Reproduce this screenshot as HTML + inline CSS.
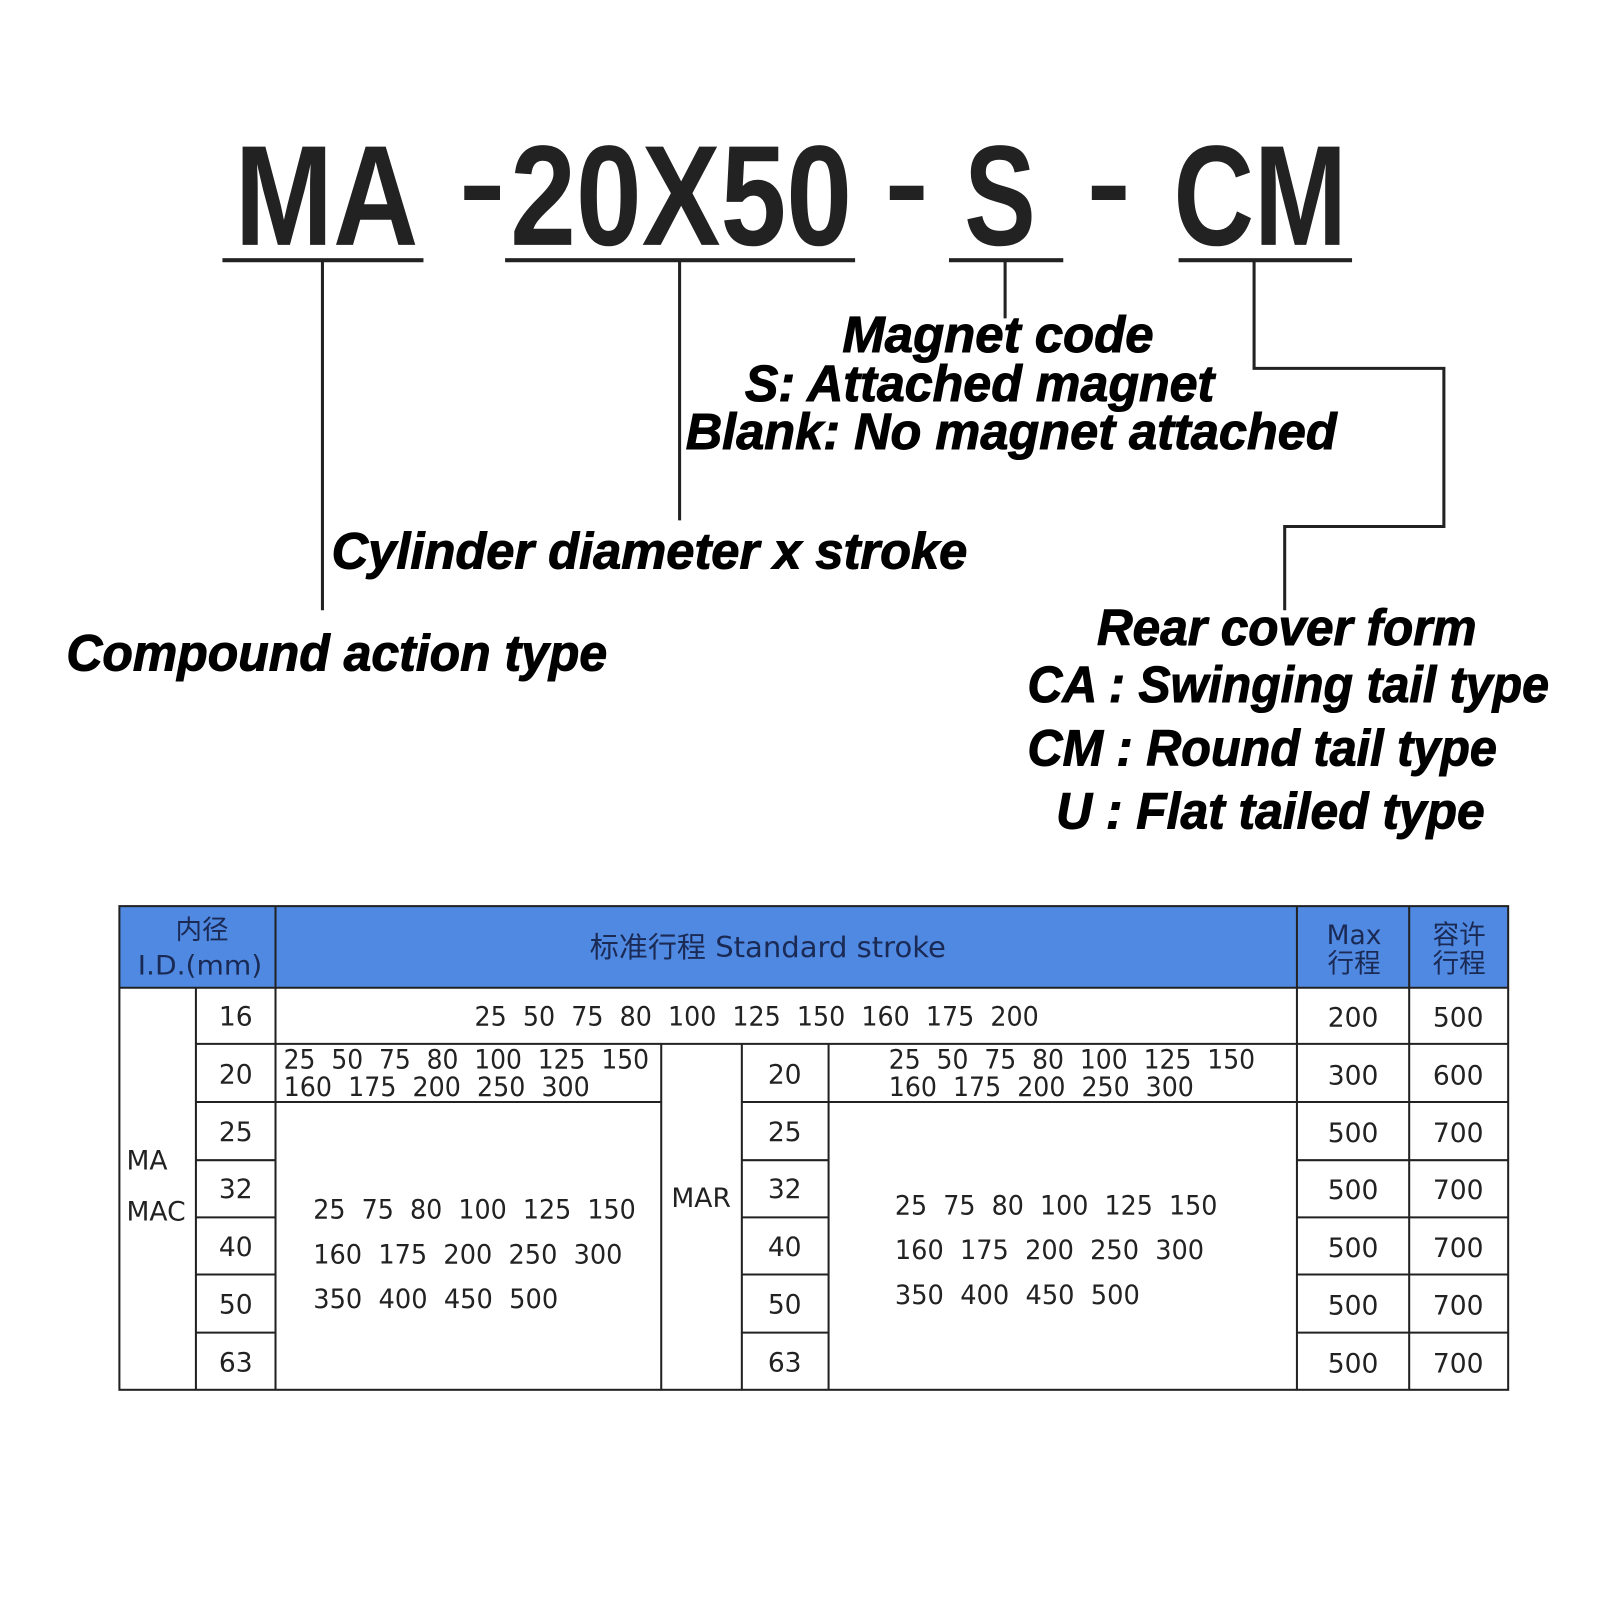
<!DOCTYPE html>
<html><head><meta charset="utf-8"><style>
html,body{margin:0;padding:0;background:#fff;width:1600px;height:1600px;overflow:hidden}
svg{display:block}
.big{font-family:"Liberation Sans",sans-serif;font-weight:bold;font-size:140px;fill:#222}
.lab{font-family:"Liberation Sans",sans-serif;font-weight:bold;font-style:italic;font-size:50px;fill:#000;stroke:#000;stroke-width:1}
.t{font-family:"DejaVu Sans","Liberation Sans","Noto Sans CJK SC",sans-serif;font-size:26px;fill:#222}
.h{font-family:"DejaVu Sans","Liberation Sans","Noto Sans CJK SC",sans-serif;font-size:26px;fill:#1a2a55}
</style></head><body>
<svg width="1600" height="1600" viewBox="0 0 1568 1568" xmlns="http://www.w3.org/2000/svg">
<rect width="1568" height="1568" fill="#fff"/>
<text class="big" x="230" y="240" textLength="180" lengthAdjust="spacingAndGlyphs">MA</text>
<rect x="455" y="182" width="35" height="14" fill="#222"/>
<text class="big" x="500" y="240" textLength="335" lengthAdjust="spacingAndGlyphs">20X50</text>
<rect x="872" y="182" width="33" height="14" fill="#222"/>
<text class="big" x="945" y="240" textLength="70" lengthAdjust="spacingAndGlyphs">S</text>
<rect x="1070" y="182" width="33" height="14" fill="#222"/>
<text class="big" x="1150" y="240" textLength="170" lengthAdjust="spacingAndGlyphs">CM</text>
<g fill="#222">
<rect x="218" y="253" width="197" height="4"/>
<rect x="495" y="253" width="343" height="4"/>
<rect x="930" y="253" width="112" height="4"/>
<rect x="1155" y="253" width="170" height="4"/>
</g>
<g stroke="#222" stroke-width="3" fill="none">
<line x1="316" y1="255" x2="316" y2="598"/>
<line x1="666" y1="255" x2="666" y2="510"/>
<line x1="985" y1="255" x2="985" y2="312"/>
<polyline points="1229,255 1229,361 1415,361 1415,516 1259,516 1259,598"/>
</g>
<text class="lab" x="978" y="345" text-anchor="middle" textLength="305" lengthAdjust="spacingAndGlyphs">Magnet code</text>
<text class="lab" x="730" y="393" textLength="460" lengthAdjust="spacingAndGlyphs">S: Attached magnet</text>
<text class="lab" x="672" y="440" textLength="638" lengthAdjust="spacingAndGlyphs">Blank: No magnet attached</text>
<text class="lab" x="325" y="557" textLength="623" lengthAdjust="spacingAndGlyphs">Cylinder diameter x stroke</text>
<text class="lab" x="65" y="657" textLength="530" lengthAdjust="spacingAndGlyphs">Compound action type</text>
<text class="lab" x="1075" y="632" textLength="372" lengthAdjust="spacingAndGlyphs">Rear cover form</text>
<text class="lab" x="1007" y="688" textLength="511" lengthAdjust="spacingAndGlyphs">CA : Swinging tail type</text>
<text class="lab" x="1007" y="750" textLength="460" lengthAdjust="spacingAndGlyphs">CM : Round tail type</text>
<text class="lab" x="1035" y="812" textLength="420" lengthAdjust="spacingAndGlyphs">U : Flat tailed type</text>
<rect x="117" y="888" width="1361" height="80" fill="#5089e2"/>
<g stroke="#222" stroke-width="2" fill="none">
<rect x="117" y="888" width="1361" height="474"/>
<line x1="117" y1="968" x2="1478" y2="968"/>
<line x1="270" y1="888" x2="270" y2="1362"/>
<line x1="1271" y1="888" x2="1271" y2="1362"/>
<line x1="1381" y1="888" x2="1381" y2="1362"/>
<line x1="192" y1="968" x2="192" y2="1362"/>
<line x1="648" y1="1023" x2="648" y2="1362"/>
<line x1="727" y1="1023" x2="727" y2="1362"/>
<line x1="812" y1="1023" x2="812" y2="1362"/>
<line x1="192" y1="1023" x2="1478" y2="1023"/>
<line x1="192" y1="1080" x2="270" y2="1080"/>
<line x1="270" y1="1080" x2="648" y2="1080"/>
<line x1="727" y1="1080" x2="1478" y2="1080"/>
<line x1="192" y1="1137" x2="270" y2="1137"/><line x1="727" y1="1137" x2="812" y2="1137"/><line x1="1271" y1="1137" x2="1478" y2="1137"/>
<line x1="192" y1="1193" x2="270" y2="1193"/><line x1="727" y1="1193" x2="812" y2="1193"/><line x1="1271" y1="1193" x2="1478" y2="1193"/>
<line x1="192" y1="1249" x2="270" y2="1249"/><line x1="727" y1="1249" x2="812" y2="1249"/><line x1="1271" y1="1249" x2="1478" y2="1249"/>
<line x1="192" y1="1306" x2="270" y2="1306"/><line x1="727" y1="1306" x2="812" y2="1306"/><line x1="1271" y1="1306" x2="1478" y2="1306"/>
</g>
<text class="h" x="198" y="920" text-anchor="middle">内径</text>
<text class="h" x="196" y="955" text-anchor="middle" textLength="122" lengthAdjust="spacingAndGlyphs">I.D.(mm)</text>
<text class="h" x="578" y="938" style="font-size:28px" textLength="349" lengthAdjust="spacingAndGlyphs">标准行程 Standard stroke</text>
<text class="h" x="1327" y="925" text-anchor="middle">Max</text>
<text class="h" x="1327" y="953" text-anchor="middle">行程</text>
<text class="h" x="1430" y="925" text-anchor="middle">容许</text>
<text class="h" x="1430" y="953" text-anchor="middle">行程</text>
<g class="t">
<text x="231" y="1005" text-anchor="middle">16</text>
<text x="231" y="1062" text-anchor="middle">20</text>
<text x="231" y="1118" text-anchor="middle">25</text>
<text x="231" y="1174" text-anchor="middle">32</text>
<text x="231" y="1231" text-anchor="middle">40</text>
<text x="231" y="1287" text-anchor="middle">50</text>
<text x="231" y="1344" text-anchor="middle">63</text>
<text x="769" y="1062" text-anchor="middle">20</text>
<text x="769" y="1118" text-anchor="middle">25</text>
<text x="769" y="1174" text-anchor="middle">32</text>
<text x="769" y="1231" text-anchor="middle">40</text>
<text x="769" y="1287" text-anchor="middle">50</text>
<text x="769" y="1344" text-anchor="middle">63</text>
<text x="124" y="1146">MA</text>
<text x="124" y="1196">MAC</text>
<text x="658" y="1183">MAR</text>
<text x="465" y="1005" xml:space="preserve" textLength="553" lengthAdjust="spacingAndGlyphs">25  50  75  80  100  125  150  160  175  200</text>
<text x="278" y="1047" xml:space="preserve" textLength="358" lengthAdjust="spacingAndGlyphs">25  50  75  80  100  125  150</text>
<text x="278" y="1074" xml:space="preserve" textLength="300" lengthAdjust="spacingAndGlyphs">160  175  200  250  300</text>
<text x="871" y="1047" xml:space="preserve" textLength="359" lengthAdjust="spacingAndGlyphs">25  50  75  80  100  125  150</text>
<text x="871" y="1074" xml:space="preserve" textLength="299" lengthAdjust="spacingAndGlyphs">160  175  200  250  300</text>
<text x="307" y="1194" xml:space="preserve" textLength="316" lengthAdjust="spacingAndGlyphs">25  75  80  100  125  150</text>
<text x="307" y="1238" xml:space="preserve" textLength="303" lengthAdjust="spacingAndGlyphs">160  175  200  250  300</text>
<text x="307" y="1282" xml:space="preserve" textLength="240" lengthAdjust="spacingAndGlyphs">350  400  450  500</text>
<text x="877" y="1190" xml:space="preserve" textLength="316" lengthAdjust="spacingAndGlyphs">25  75  80  100  125  150</text>
<text x="877" y="1234" xml:space="preserve" textLength="303" lengthAdjust="spacingAndGlyphs">160  175  200  250  300</text>
<text x="877" y="1278" xml:space="preserve" textLength="240" lengthAdjust="spacingAndGlyphs">350  400  450  500</text>
<text x="1326" y="1006" text-anchor="middle">200</text><text x="1429" y="1006" text-anchor="middle">500</text>
<text x="1326" y="1063" text-anchor="middle">300</text><text x="1429" y="1063" text-anchor="middle">600</text>
<text x="1326" y="1119" text-anchor="middle">500</text><text x="1429" y="1119" text-anchor="middle">700</text>
<text x="1326" y="1175" text-anchor="middle">500</text><text x="1429" y="1175" text-anchor="middle">700</text>
<text x="1326" y="1232" text-anchor="middle">500</text><text x="1429" y="1232" text-anchor="middle">700</text>
<text x="1326" y="1288" text-anchor="middle">500</text><text x="1429" y="1288" text-anchor="middle">700</text>
<text x="1326" y="1345" text-anchor="middle">500</text><text x="1429" y="1345" text-anchor="middle">700</text>
</g>
</svg>
</body></html>
